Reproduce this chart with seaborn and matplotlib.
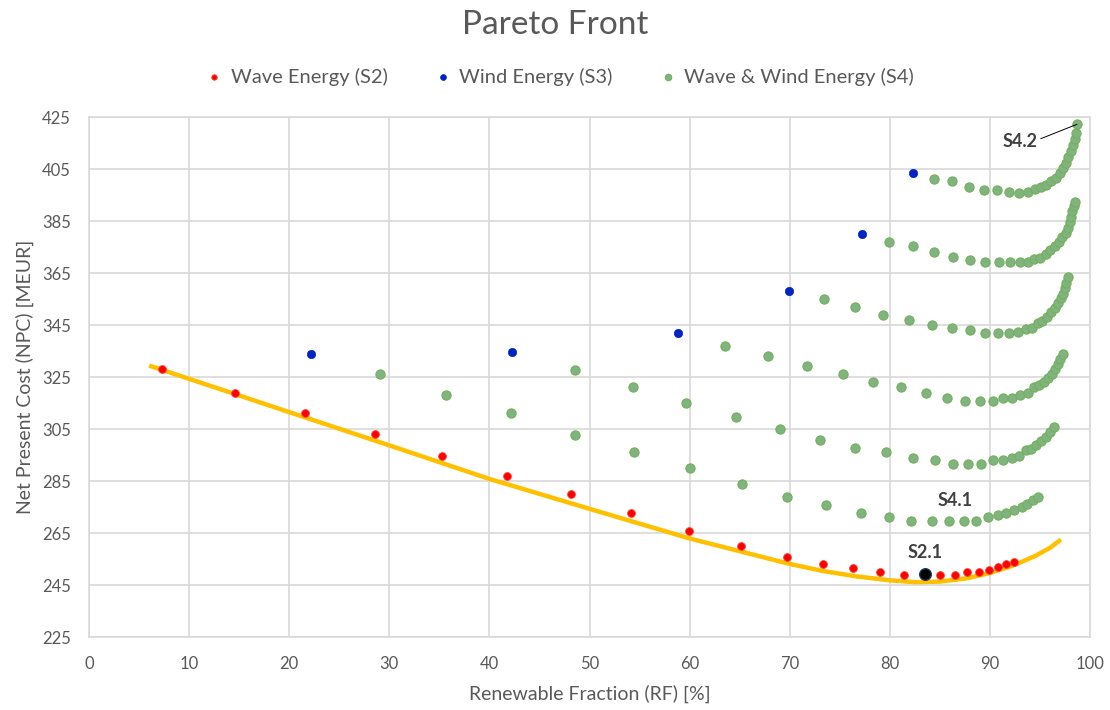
import numpy as np
import pandas as pd
import seaborn as sns
import matplotlib.pyplot as plt

# Wave Energy (S2)
s2_x = [7.3, 14.6, 21.6, 28.6, 35.3, 41.8, 48.1, 54.1, 59.9, 65.1, 69.7, 73.3,
        76.3, 79.0, 81.4, 85.0, 86.5, 87.7, 88.9, 89.9, 90.8, 91.6, 92.4]
s2_y = [327.9, 318.9, 311.2, 302.9, 294.8, 286.8, 279.9, 272.8, 265.8, 259.9, 255.8, 252.9,
        251.6, 249.9, 248.7, 248.7, 248.7, 249.9, 249.9, 250.9, 251.8, 252.9, 253.8]
s2_1 = (83.5, 249.4)

# Wind Energy (S3)
s3_x = [22.2, 42.3, 58.8, 69.9, 77.2, 82.3]
s3_y = [333.9, 334.7, 342.0, 358.0, 379.9, 403.3]

# Wave & Wind Energy (S4), one list per front
s4a_x = [29.1, 35.7, 42.2, 48.5, 54.4, 60.0, 65.2, 69.7, 73.6, 77.1, 79.9, 82.1,
         84.2, 85.9, 87.4, 88.6, 89.8, 90.8, 91.6, 92.4, 93.2, 93.7, 94.3, 94.8]
s4a_y = [326.2, 318.0, 311.0, 302.8, 296.0, 289.9, 283.9, 278.8, 275.7, 272.7, 271.0, 269.8,
         269.8, 269.8, 269.8, 269.8, 271.1, 272.0, 272.8, 273.9, 274.9, 276.0, 277.6, 278.8]
s4b_x = [48.5, 54.3, 59.6, 64.6, 69.0, 73.0, 76.5, 79.6, 82.3, 84.5, 86.3, 87.8,
         89.1, 90.3, 91.3, 92.2, 92.9, 93.6, 94.1, 94.6, 95.1, 95.6, 96.0, 96.4]
s4b_y = [327.8, 321.0, 314.9, 309.8, 305.1, 300.7, 297.7, 296.0, 293.8, 292.9, 291.7, 291.7,
         291.7, 292.9, 292.9, 293.8, 294.8, 296.8, 297.4, 298.9, 300.5, 301.8, 303.8, 305.8]
s4c_x = [63.5, 67.8, 71.7, 75.3, 78.3, 81.1, 83.6, 85.7, 87.5, 89.0, 90.3, 91.3,
         92.2, 93.0, 93.8, 94.4, 94.9, 95.4, 95.8, 96.2, 96.5, 96.8, 97.0, 97.3]
s4c_y = [337.0, 333.0, 329.2, 326.0, 323.0, 321.0, 318.7, 317.0, 315.7, 315.7, 315.7, 317.0,
         317.0, 317.9, 318.9, 321.0, 322.0, 323.0, 324.5, 326.3, 328.1, 329.9, 332.0, 333.8]
s4d_x = [73.4, 76.5, 79.3, 81.9, 84.2, 86.2, 88.0, 89.5, 90.8, 91.9, 92.8, 93.6,
         94.2, 94.8, 95.2, 95.7, 96.1, 96.5, 96.8, 97.1, 97.3, 97.5, 97.6, 97.8]
s4d_y = [355.1, 352.0, 348.9, 346.8, 344.9, 343.9, 342.9, 342.0, 342.0, 342.0, 342.2, 343.3,
         344.0, 345.8, 346.6, 348.2, 349.9, 351.7, 353.3, 355.3, 357.1, 359.2, 361.2, 363.3]
s4e_x = [79.9, 82.3, 84.4, 86.3, 88.0, 89.5, 90.9, 92.0, 93.0, 93.8, 94.4, 95.0,
         95.6, 96.0, 96.5, 96.9, 97.2, 97.6, 97.8, 98.0, 98.1, 98.2, 98.4, 98.5]
s4e_y = [377.0, 375.2, 373.0, 371.0, 369.9, 369.2, 369.2, 369.2, 369.2, 369.2, 370.2, 370.7,
         372.2, 374.0, 375.3, 376.8, 378.7, 380.5, 382.5, 384.5, 386.6, 388.7, 390.7, 392.2]
s4f_x = [84.4, 86.2, 87.9, 89.4, 90.7, 91.9, 92.9, 93.8, 94.5, 95.1, 95.6, 96.1,
         96.6, 97.0, 97.3, 97.6, 97.8, 98.1, 98.3, 98.5, 98.6, 98.7]
s4f_y = [401.0, 400.2, 398.0, 397.1, 397.1, 396.1, 395.8, 396.1, 397.4, 397.9, 398.9, 400.2,
         401.7, 403.5, 405.3, 407.4, 409.7, 412.0, 414.3, 416.6, 418.9, 422.2]

s4_x = s4a_x + s4b_x + s4c_x + s4d_x + s4e_x + s4f_x
s4_y = s4a_y + s4b_y + s4c_y + s4d_y + s4e_y + s4f_y

# yellow trendline
trend_x = [6.0, 10.0, 20.0, 30.0, 40.0, 50.0, 60.0, 65.0, 70.0, 73.3, 76.7, 80.0,
           82.5, 85.0, 87.7, 90.0, 92.2, 94.6, 96.0, 97.1]
trend_y = [329.4, 324.3, 311.5, 298.7, 285.8, 274.3, 262.9, 258.0, 253.1, 250.4, 248.3, 246.8,
           246.1, 246.3, 247.6, 249.6, 252.3, 256.3, 259.3, 262.5]

sns.set_style("white")
plt.rcParams["font.family"] = ["Lato", "DejaVu Sans"]
txt = "#595959"

fig = plt.figure(figsize=(11.1, 7.1), dpi=100)
ax = fig.add_axes([0.0802, 0.1028, 0.9018, 0.7324])

sns.lineplot(x=trend_x, y=trend_y, color="#FFC000", lw=3.2, zorder=2, ax=ax,
             solid_capstyle="butt", solid_joinstyle="round")

sns.scatterplot(x=s4_x, y=s4_y, color="#80b380", edgecolor="#74b05a", linewidth=0.8,
                s=44, zorder=3, ax=ax, label="Wave & Wind Energy (S4)")
sns.scatterplot(x=s3_x, y=s3_y, color="#0024c4", edgecolor="#0024c4", linewidth=0.5,
                s=36, zorder=3, ax=ax, label="Wind Energy (S3)")
sns.scatterplot(x=s2_x, y=s2_y, color="#ff0000", edgecolor="#ff4a3a", linewidth=0.6,
                s=32, zorder=3, ax=ax, label="Wave Energy (S2)")
ax.scatter([s2_1[0]], [s2_1[1]], s=70, color="black", edgecolor="#1f3864",
           linewidth=1.0, zorder=4)

ax.annotate("S4.2", xy=(s4f_x[-1], s4f_y[-1]), xytext=(93.0, 415.5), ha="center",
            va="center", fontsize=13, fontweight="bold", color="#404040",
            arrowprops=dict(arrowstyle="-", color="black", lw=0.7, shrinkA=0, shrinkB=0,
                            relpos=(1.0, 0.6)))
ax.text(86.5, 277.5, "S4.1", ha="center", va="center", fontsize=13,
        fontweight="bold", color="#404040")
ax.text(83.5, 257.5, "S2.1", ha="center", va="center", fontsize=13,
        fontweight="bold", color="#404040")

ax.set_xlim(0, 100)
ax.set_ylim(225, 425)
ax.set_xticks(np.arange(0, 101, 10))
ax.set_yticks(np.arange(225, 426, 20))
ax.grid(True, color="#d9d9d9", lw=1.2)
ax.set_axisbelow(True)
for sp in ax.spines.values():
    sp.set_color("#d9d9d9")
    sp.set_linewidth(1.2)
ax.tick_params(length=0, labelsize=12, labelcolor=txt)
ax.tick_params(axis="x", pad=14)
ax.tick_params(axis="y", pad=13)
ax.set_xlabel("Renewable Fraction (RF) [%]", fontsize=14, color=txt, labelpad=9)
ax.set_ylabel("Net Present Cost (NPC) [MEUR]", fontsize=14, color=txt, labelpad=6)

handles, labels = ax.get_legend_handles_labels()
order = [labels.index(l) for l in ["Wave Energy (S2)", "Wind Energy (S3)", "Wave & Wind Energy (S4)"]]
ax.legend([handles[i] for i in order], [labels[i] for i in order],
          loc="center", bbox_to_anchor=(0.504, 0.892), bbox_transform=fig.transFigure,
          ncol=3, frameon=False, fontsize=14.5, labelcolor=txt, markerscale=0.7,
          handlelength=0.9, handletextpad=0.35, columnspacing=2.3)

fig.text(0.5, 0.965, "Pareto Front", ha="center", va="center", fontsize=24, color=txt)

fig.savefig("out.png", dpi=100)
